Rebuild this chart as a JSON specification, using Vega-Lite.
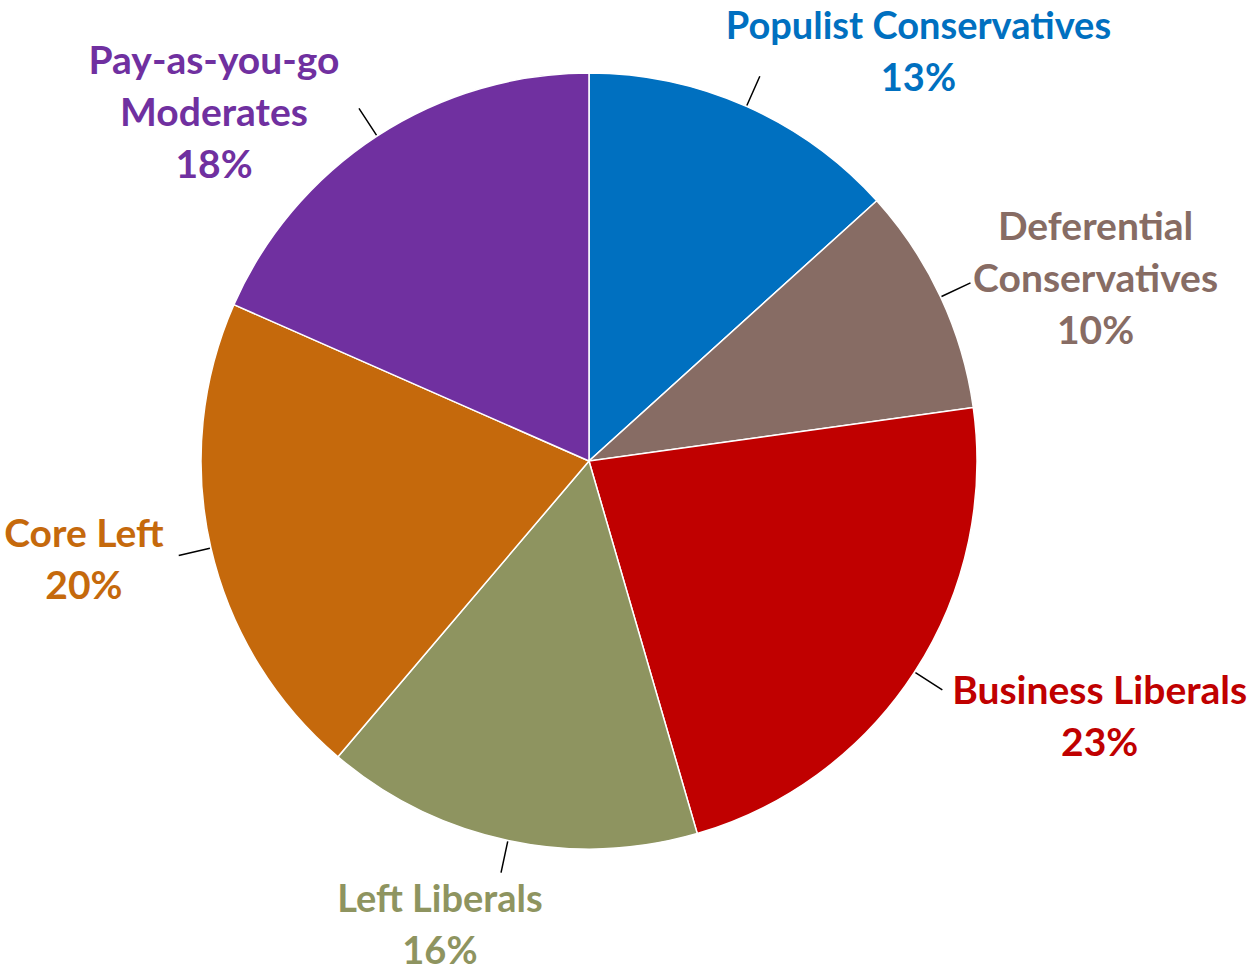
{
  "$schema": "https://vega.github.io/schema/vega-lite/v6.json",
  "width": 1178,
  "height": 922,
  "autosize": "none",
  "padding": {"left": 0, "top": 0, "right": 77, "bottom": 51},
  "background": "white",
  "view": {"stroke": null},
  "data": {
    "values": [
      {"name": "Populist Conservatives", "share": 13.3, "label": "Populist Conservatives|13%"},
      {"name": "Deferential Conservatives", "share": 9.5, "label": "Deferential|Conservatives|10%"},
      {"name": "Business Liberals", "share": 22.7, "label": "Business Liberals|23%"},
      {"name": "Left Liberals", "share": 15.7, "label": "Left Liberals|16%"},
      {"name": "Core Left", "share": 20.4, "label": "Core Left|20%"},
      {"name": "Pay-as-you-go Moderates", "share": 18.4, "label": "Pay-as-you-go|Moderates|18%"}
    ]
  },
  "transform": [{"window": [{"op": "row_number", "as": "idx"}]}],
  "encoding": {
    "theta": {"field": "share", "type": "quantitative", "stack": true},
    "order": {"field": "idx", "type": "quantitative"}
  },
  "layer": [
    {
      "mark": {"type": "arc", "outerRadius": 388, "stroke": "white", "strokeWidth": 1.5},
      "encoding": {
        "color": {
          "field": "name", "type": "nominal", "legend": null,
          "scale": {
            "domain": ["Populist Conservatives", "Deferential Conservatives", "Business Liberals", "Left Liberals", "Core Left", "Pay-as-you-go Moderates"],
            "range": ["#0070C0", "#876C64", "#C00000", "#8E9460", "#C5690C", "#7030A0"]
          }
        }
      }
    },
    {
      "mark": {"type": "arc", "innerRadius": 389, "outerRadius": 421, "padAngle": 3.2, "filled": false, "stroke": "black", "strokeWidth": 1.5},
      "encoding": {}
    },
    {
      "mark": {"type": "text", "radius": 388, "dx": 172, "dy": -78, "font": "Lato", "fontSize": 38, "fontWeight": "bold", "lineBreak": "|", "lineHeight": 52, "align": "center", "baseline": "middle"},
      "encoding": {
        "text": {"condition": {"test": "datum.name === 'Populist Conservatives'", "field": "label"}, "value": ""},
        "color": {"field": "name", "type": "nominal", "legend": null}
      }
    },
    {
      "mark": {"type": "text", "radius": 388, "dx": 155, "dy": -69, "font": "Lato", "fontSize": 39, "fontWeight": "bold", "lineBreak": "|", "lineHeight": 52, "align": "center", "baseline": "middle"},
      "encoding": {
        "text": {"condition": {"test": "datum.name === 'Deferential Conservatives'", "field": "label"}, "value": ""},
        "color": {"field": "name", "type": "nominal", "legend": null}
      }
    },
    {
      "mark": {"type": "text", "radius": 388, "dx": 185, "dy": 20, "font": "Lato", "fontSize": 39, "fontWeight": "bold", "lineBreak": "|", "lineHeight": 52, "align": "center", "baseline": "middle"},
      "encoding": {
        "text": {"condition": {"test": "datum.name === 'Business Liberals'", "field": "label"}, "value": ""},
        "color": {"field": "name", "type": "nominal", "legend": null}
      }
    },
    {
      "mark": {"type": "text", "radius": 388, "dx": -68, "dy": 61, "font": "Lato", "fontSize": 38, "fontWeight": "bold", "lineBreak": "|", "lineHeight": 52, "align": "center", "baseline": "middle"},
      "encoding": {
        "text": {"condition": {"test": "datum.name === 'Left Liberals'", "field": "label"}, "value": ""},
        "color": {"field": "name", "type": "nominal", "legend": null}
      }
    },
    {
      "mark": {"type": "text", "radius": 388, "dx": -127, "dy": -13, "font": "Lato", "fontSize": 39, "fontWeight": "bold", "lineBreak": "|", "lineHeight": 52, "align": "center", "baseline": "middle"},
      "encoding": {
        "text": {"condition": {"test": "datum.name === 'Core Left'", "field": "label"}, "value": ""},
        "color": {"field": "name", "type": "nominal", "legend": null}
      }
    },
    {
      "mark": {"type": "text", "radius": 388, "dx": -163, "dy": -74, "font": "Lato", "fontSize": 39, "fontWeight": "bold", "lineBreak": "|", "lineHeight": 52, "align": "center", "baseline": "middle"},
      "encoding": {
        "text": {"condition": {"test": "datum.name === 'Pay-as-you-go Moderates'", "field": "label"}, "value": ""},
        "color": {"field": "name", "type": "nominal", "legend": null}
      }
    }
  ]
}
